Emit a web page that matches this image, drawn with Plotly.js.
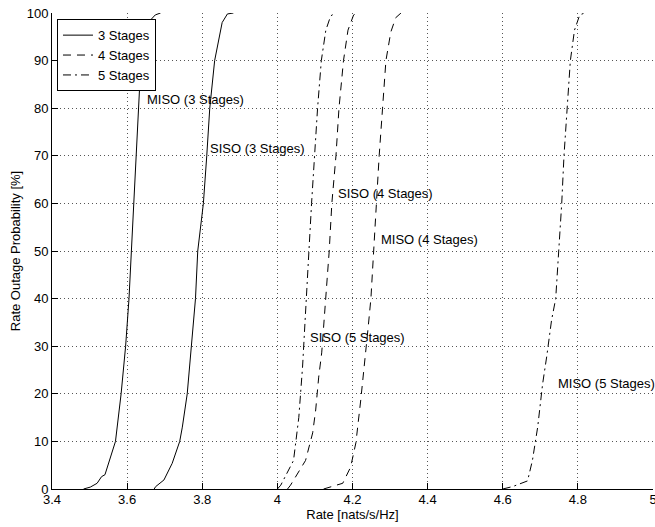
<!DOCTYPE html>
<html>
<head>
<meta charset="utf-8">
<script src="https://cdn.plot.ly/plotly-3.0.1.min.js"></script>
<style>html,body{margin:0;padding:0;background:#fff;}#chart{width:655px;height:527px;}</style>
</head>
<body>
<div id="chart"></div>
<script>
// Rate [nats/s/Hz] vs outage probability [%]
const miso3X = [3.484, 3.502, 3.520, 3.532, 3.541, 3.551, 3.569, 3.584, 3.596, 3.605, 3.611, 3.618, 3.624, 3.629, 3.635, 3.640, 3.662, 3.675, 3.689];
const miso3Y = [0, 0.4, 1.2, 2.6, 3.0, 5.5, 10, 20, 30, 40, 50, 60, 70, 80, 90, 95, 98.5, 99.6, 100];

const siso3X = [3.672, 3.676, 3.698, 3.720, 3.740, 3.747, 3.760, 3.772, 3.782, 3.788, 3.803, 3.812, 3.820, 3.833, 3.842, 3.853, 3.867, 3.883];
const siso3Y = [0, 0.5, 1.9, 5.4, 10, 13, 20, 30, 40, 50, 60, 70, 80, 90, 94, 98, 99.8, 100];

const siso4X = [4.027, 4.035, 4.075, 4.094, 4.102, 4.110, 4.118, 4.129, 4.138, 4.145, 4.156, 4.164, 4.176, 4.188, 4.193, 4.203, 4.214];
const siso4Y = [0, 0.8, 6, 11.8, 16.6, 23.5, 28.6, 40, 50, 60, 70, 80, 90, 96.4, 97.5, 99.6, 100];

const miso4X = [4.123, 4.174, 4.195, 4.209, 4.222, 4.230, 4.241, 4.249, 4.256, 4.262, 4.271, 4.280, 4.289, 4.302, 4.315, 4.329];
const miso4Y = [0, 1.2, 4.6, 9.7, 18.7, 25.6, 33.4, 40, 50, 60, 70, 80, 90, 96, 99, 100];

const siso5X = [4.000, 4.009, 4.043, 4.057, 4.067, 4.078, 4.084, 4.091, 4.098, 4.107, 4.117, 4.129, 4.142, 4.155];
const siso5Y = [0, 0.8, 6, 15, 25.6, 40, 50, 60, 70, 80, 90, 96.4, 99.4, 100];

const miso5X = [4.600, 4.626, 4.666, 4.679, 4.693, 4.706, 4.717, 4.730, 4.741, 4.749, 4.757, 4.763, 4.772, 4.780, 4.791, 4.805, 4.818];
const miso5Y = [0, 0.5, 1.7, 6, 13, 22, 27.8, 35.5, 40, 50, 60, 70, 80, 90, 96.4, 99.6, 100];

const legendNames = ["3 Stages", "4 Stages", "5 Stages"];
const curveLabels = ["MISO (3 Stages)", "SISO (3 Stages)", "SISO (4 Stages)", "MISO (4 Stages)", "SISO (5 Stages)", "MISO (5 Stages)"];
const labelX = [3.651, 3.817, 4.158, 4.272, 4.083, 4.744];
const labelY = [81.9, 71.6, 62.0, 52.5, 31.9, 22.1];

const xTicks = [3.4, 3.6, 3.8, 4, 4.2, 4.4, 4.6, 4.8, 5];
const yTicks = [0, 10, 20, 30, 40, 50, 60, 70, 80, 90, 100];

const FONT = "Liberation Sans, Arial, Helvetica, sans-serif";
const DASH4 = "8px,6px";
const DASH5 = "8px,4px,2px,4px";

function tr(x, y, dash, name, show, group) {
  return {x: x, y: y, type: "scatter", mode: "lines", name: name, showlegend: show,
          legendgroup: group, line: {color: "#000", width: 1, dash: dash}, hoverinfo: "skip"};
}

const data = [
  tr(miso3X, miso3Y, "solid", legendNames[0], true, "g3"),
  tr(siso3X, siso3Y, "solid", legendNames[0], false, "g3"),
  tr(siso4X, siso4Y, DASH4, legendNames[1], true, "g4"),
  tr(miso4X, miso4Y, DASH4, legendNames[1], false, "g4"),
  tr(siso5X, siso5Y, DASH5, legendNames[2], true, "g5"),
  tr(miso5X, miso5Y, DASH5, legendNames[2], false, "g5")
];

const annotations = curveLabels.map((t, i) => ({
  x: labelX[i], y: labelY[i], xref: "x", yref: "y", text: t, showarrow: false,
  xanchor: "left", yanchor: "middle", font: {family: FONT, size: 13, color: "#000"}, borderpad: 0
}));

const gridStyle = {showgrid: true, gridcolor: "#555", gridwidth: 1, griddash: "1px,3px"};

const layout = {
  width: 655, height: 527,
  margin: {l: 52, r: 2, t: 13, b: 38, pad: 0},
  paper_bgcolor: "#fff", plot_bgcolor: "#fff",
  font: {family: FONT, size: 13, color: "#000"},
  showlegend: true,
  legend: {x: 0.0083, y: 0.987, xanchor: "left", yanchor: "top", bgcolor: "#fff",
           bordercolor: "#000", borderwidth: 1, font: {family: FONT, size: 13, color: "#000"},
           tracegroupgap: 0, itemwidth: 30, traceorder: "normal"},
  xaxis: Object.assign({
    range: [3.4, 5], tickvals: xTicks, ticktext: xTicks.map(v => String(v)),
    ticks: "inside", ticklen: 6, tickcolor: "#000", showline: true, linecolor: "#000", linewidth: 1,
    zeroline: false, mirror: false, tickfont: {family: FONT, size: 13, color: "#000"},
    ticklabeloverflow: "allow", ticklabelstandoff: -2,
    title: {text: "Rate [nats/s/Hz]", font: {family: FONT, size: 13, color: "#000"}, standoff: 4}
  }, gridStyle),
  yaxis: Object.assign({
    range: [0, 100], tickvals: yTicks, ticks: "inside", ticklen: 6, tickcolor: "#000",
    showline: true, linecolor: "#000", linewidth: 1, zeroline: false, mirror: false,
    tickfont: {family: FONT, size: 13, color: "#000"}, ticklabeloverflow: "allow",
    title: {text: "Rate Outage Probability [%]", font: {family: FONT, size: 13, color: "#000"}, standoff: 3}
  }, gridStyle),
  annotations: annotations
};

Plotly.newPlot("chart", data, layout, {staticPlot: true, displayModeBar: false});
</script>
</body>
</html>
